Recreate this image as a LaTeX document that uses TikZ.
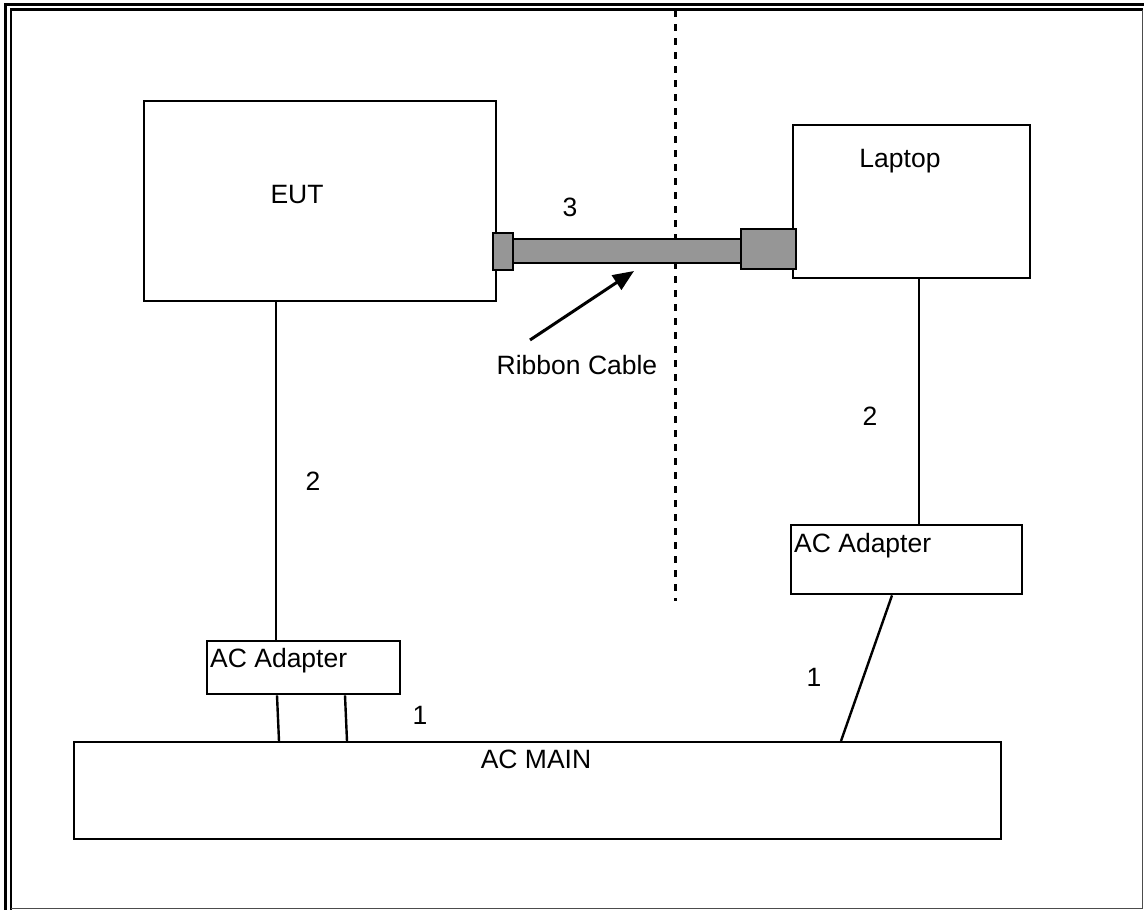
\documentclass[tikz,border=0pt]{standalone}
\usepackage{fontspec}
\setmainfont{Liberation Sans}
\usetikzlibrary{arrows.meta,calc}
\definecolor{cablegray}{HTML}{969696}
\tikzset{
  box/.style={draw=black, line width=2.4pt, inner sep=0pt, anchor=north west},
  plug/.style={draw=black, line width=1.8pt, fill=cablegray, inner sep=0pt, anchor=north west},
  wire/.style={draw=black, line width=2.4pt},
  lbl/.style={inner sep=0pt, anchor=base, font=\fontsize{26.5}{30}\selectfont},
  lblw/.style={inner sep=0pt, anchor=base west, font=\fontsize{26.5}{30}\selectfont},
  frame/.style={line width=3pt, black},
}
\begin{document}
\begin{tikzpicture}[x=1pt,y=-1pt]
\useasboundingbox (0,0) rectangle (1144,910);
% page frame
\draw[frame] (5,910) -- (5,4) -- (1144,4);
\draw[line width=2.5pt] (11,910) -- (11,9.5) -- (1142.5,9.5);
\draw[line width=1.5pt, black!70] (1142.5,9.5) -- (1142.5,908.5) -- (11,908.5);
% separator
\draw[line width=2.4pt, dash pattern=on 7pt off 7pt] (675.5,10) -- (675.5,601);
% boxes
\node[box, minimum width=352, minimum height=200] (eut) at (143,100) {};
\node[box, minimum width=237, minimum height=153] (lap) at (792,124) {};
\node[box, minimum width=193, minimum height=53] (adl) at (206,640) {};
\node[box, minimum width=231, minimum height=69] (adr) at (790,524) {};
\node[box, minimum width=927, minimum height=97] (main) at (73,741) {};
% cable
\node[plug, minimum width=228, minimum height=24] (rib) at (512,238) {};
\node[plug, minimum width=20, minimum height=37] (pl) at (492,232) {};
\node[plug, minimum width=55, minimum height=40] (pr) at (740,228) {};
% texts
\node[lbl] (teut) at (297,203) {EUT};
\node[lbl] (tlap) at (900,167) {Laptop};
\node[lblw] (tadl) at (210,667) {AC Adapter};
\node[lblw] (tadr) at (794,552) {AC Adapter};
\node[lbl] (tmain) at (536,768) {AC MAIN};
\node[lbl] (t3) at (570,216) {3};
\node[lbl] (trib) at (577,374) {Ribbon Cable};
\node[lbl] (t2l) at (313,490) {2};
\node[lbl] (t2r) at (870,425) {2};
\node[lbl] (t1l) at (420,724) {1};
\node[lbl] (t1r) at (814,686) {1};
% connectors
\coordinate (ribtail) at (530,340);
\coordinate (ribhead) at (634,271);
\draw[line width=3pt, -{Triangle[length=21pt,width=17pt]}] (ribtail) -- (ribhead);
\draw[wire] (eut.south -| 276,0) -- (adl.north -| 276,0);
\draw[wire] (lap.south -| 919,0) -- (adr.north -| 919,0);
\draw[wire] (adl.south -| 277,0) -- (main.north -| 279,0);
\draw[wire] (adl.south -| 345,0) -- (main.north -| 347,0);
\draw[wire] (adr.south -| 892,0) -- (main.north -| 841,0);
\end{tikzpicture}
\end{document}
